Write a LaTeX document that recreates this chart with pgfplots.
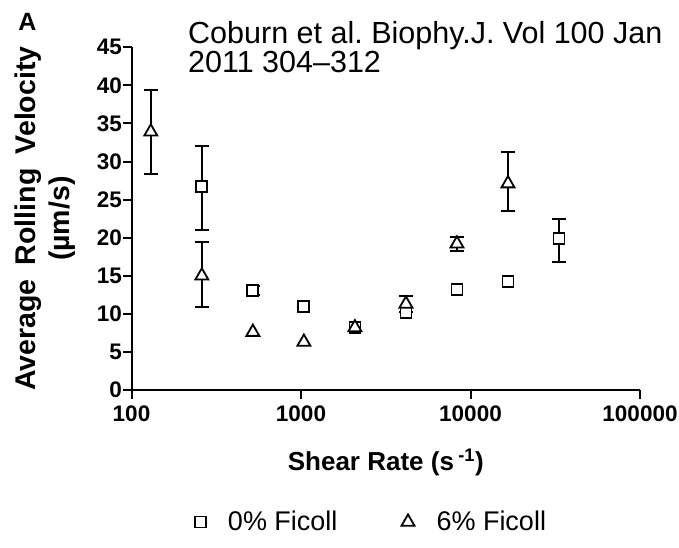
\documentclass[border=0pt]{standalone}
\usepackage{pgfplots}
\pgfplotsset{compat=1.18}
\usepackage{fontspec}
\setmainfont{Liberation Sans}
\frenchspacing
\pgfplotstableread{
x     y     ep   em
260   26.75 5.35 5.75
520   13.1  0.6  0.6
33280 19.9  2.5  3.1
}\sqerr
\pgfplotstableread{
x     y
260   26.75
520   13.1
1040  11.0
2080  8.25
4160  10.2
8320  13.2
16640 14.2
33280 19.9
}\sqall
\pgfplotstableread{
x     y     ep   em
130   33.9  5.5  5.5
260   15.0  4.4  4.1
4160  11.3  1.1  1.0
8320  19.2  0.9  1.0
16640 27.1  4.2  3.6
}\trerr
\pgfplotstableread{
x     y
130   33.9
260   15.0
520   7.6
1040  6.3
2080  8.2
4160  11.3
8320  19.2
16640 27.1
}\trall
\begin{document}
\begin{tikzpicture}
\useasboundingbox (-131.5pt,-158pt) rectangle (547.5pt,390pt);
\begin{axis}[
  at={(0pt,0pt)}, anchor=south west,
  scale only axis, width=508.5pt, height=342.7pt,
  xmode=log, xmin=100, xmax=100000, ymin=0, ymax=45,
  axis x line=bottom, axis y line=left,
  axis line style={-, line width=2pt},
  clip=false,
  xtick={100,1000,10000,100000},
  xticklabels={100,1000,10000,100000},
  xminorticks=false,
  ytick={0,5,...,45},
  tick align=outside,
  major tick length=8.5pt,
  tick style={line width=2pt, black},
  /pgf/number format/assume math mode=true,
  yticklabel style={font=\fontsize{22.5}{22.5}\selectfont\bfseries, inner sep=1pt},
  xticklabel style={font=\fontsize{22.5}{22.5}\selectfont\bfseries, inner sep=1pt, yshift=-6pt},
  xlabel={Shear Rate (s\,\textsuperscript{-1})},
  xlabel style={at={(rel axis cs:0.5,-0.2126)}, anchor=center, font=\fontsize{26}{26}\selectfont\bfseries},
  ylabel={Average\hspace{0.5em}Rolling\hspace{0.5em}Velocity\\(µm/s)},
  ylabel style={at={(rel axis cs:-0.1696,0.5)}, anchor=center, align=center, font=\fontsize{28.5}{34.5}\selectfont\bfseries},
  legend columns=2,
  legend style={at={(rel axis cs:0.472,-0.385)}, anchor=center, draw=none, fill=none,
    font=\fontsize{27}{27}\selectfont,
    /tikz/every odd column/.append style={column sep=20pt},
    /tikz/every even column/.append style={column sep=62pt}},
]
% error bars (drawn under the marks)
\addplot[forget plot, only marks, mark=none, black,
  error bars/.cd, y dir=both, y explicit,
  error bar style={line width=2pt, black},
  error mark options={rotate=90, mark size=7pt, line width=2pt, black}]
  table[x=x, y=y, y error plus=ep, y error minus=em] {\sqerr};
\addplot[forget plot, only marks, mark=none, black,
  error bars/.cd, y dir=both, y explicit,
  error bar style={line width=2pt, black},
  error mark options={rotate=90, mark size=7pt, line width=2pt, black}]
  table[x=x, y=y, y error plus=ep, y error minus=em] {\trerr};
% markers
\addplot[only marks, black, mark=square*, mark size=5.5pt,
  mark options={fill=white, line width=1.8pt}]
  table[x=x, y=y] {\sqall};
\addlegendentry{0\% Ficoll}
\addplot[only marks, black, mark=triangle*, mark size=7.5pt,
  mark options={fill=white, line width=1.8pt}]
  table[x=x, y=y] {\trall};
\addlegendentry{6\% Ficoll}
\end{axis}
\node[anchor=base west, inner sep=0pt, font=\fontsize{30.5}{30.5}\selectfont] at (56.5pt,346pt) {Coburn et al. Biophy.J. Vol 100 Jan};
\node[anchor=base west, inner sep=0pt, font=\fontsize{30.5}{30.5}\selectfont] at (56.5pt,317pt) {2011 304–312};
\node[inner sep=0pt, font=\fontsize{25}{25}\selectfont\bfseries] at (-104pt,368.5pt) {A};
\end{tikzpicture}
\end{document}
